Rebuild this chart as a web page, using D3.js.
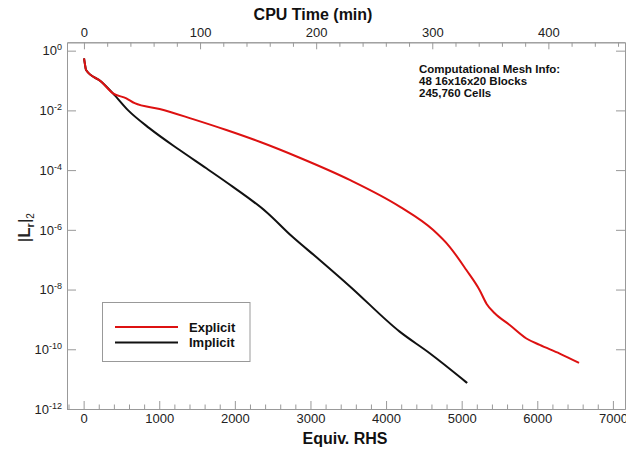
<!DOCTYPE html>
<html lang="en">
<head>
  <meta charset="UTF-8">
  <title>Residual convergence</title>
  <style>
    body { margin: 0; background: #fff; font-family: "Liberation Sans", Arial, sans-serif; }
    .axis path, .axis line { stroke: #999; stroke-width: 1px; }
    .axis text { fill: #222; font-size: 13px; font-family: "Liberation Sans", Arial, sans-serif; }
    .curve { fill: none; stroke-width: 2px; stroke-linejoin: round; }
    .title { font-weight: bold; fill: #111; }
  </style>
</head>
<body>
  <svg width="626" height="450"></svg>

  <script src="https://d3js.org/d3.v7.min.js"></script>
  <script>
    // Equiv. RHS evaluations vs. |Lr|2 residual
    const implicitRhs = [5, 17, 32, 234, 388, 586, 873, 1270, 1623, 1975, 2420, 2751, 3122, 3519, 4180, 4577, 4996, 5073];
    const implicitRes = [0.556, 0.355, 0.224, 0.0912, 0.0372, 0.0102, 2.5e-3, 4.7e-4, 1.15e-4, 2.75e-5, 3.9e-6, 6.2e-7, 9.8e-8, 1.3e-8, 3.9e-10, 7.4e-11, 1.07e-11, 7.4e-12];

    const explicitRhs = [5, 17, 32, 234, 388, 565, 675, 1005, 1446, 1888, 2328, 2857, 3519, 4180, 4620, 4841, 5062, 5238, 5330, 5437, 5635, 5856, 6032, 6296, 6552];
    const explicitRes = [0.556, 0.355, 0.224, 0.0912, 0.0372, 0.0254, 0.0174, 0.0112, 5.1e-3, 2.2e-3, 8.9e-4, 2.6e-4, 4.7e-5, 6.0e-6, 1.0e-6, 2.7e-7, 4.5e-8, 9.5e-9, 3.3e-9, 1.6e-9, 6.5e-10, 2.3e-10, 1.4e-10, 7.2e-11, 3.5e-11];

    const rhsTicks = [0, 1000, 2000, 3000, 4000, 5000, 6000, 7000];
    const cpuTicks = [0, 100, 200, 300, 400];
    const resTicks = [1, 1e-2, 1e-4, 1e-6, 1e-8, 1e-10, 1e-12];

    const meshInfo = ["Computational Mesh Info:", "48 16x16x20 Blocks", "245,760 Cells"];

    const plotL = 67, plotR = 625, plotT = 42.3, plotB = 409;

    const svg = d3.select("svg");

    const x = d3.scaleLinear().domain([-220, 7160]).range([plotL, plotR]);
    const xTop = d3.scaleLinear().domain([-14.6, 466]).range([plotL, plotR]);
    const y = d3.scaleLog().domain([Math.pow(10, 0.28), 1e-12]).range([plotT, plotB]);

    // minor ticks
    const rhsMinor = d3.range(-200, 7160, 200).filter(v => v % 1000 !== 0);
    const cpuMinor = d3.range(-0, 466, 20).filter(v => v % 100 !== 0);

    svg.append("g").attr("class", "axis")
       .attr("transform", `translate(0,${plotB})`)
       .call(d3.axisBottom(x).tickValues(rhsMinor).tickFormat("").tickSizeInner(-4.5).tickSizeOuter(0));
    const bx = svg.append("g").attr("class", "axis")
       .attr("transform", `translate(0,${plotB})`)
       .call(d3.axisBottom(x).tickValues(rhsTicks).tickFormat(d3.format("d")).tickSizeInner(-8).tickSizeOuter(0).tickPadding(5));
    bx.selectAll("text").attr("dy", "0.71em");

    svg.append("g").attr("class", "axis")
       .attr("transform", `translate(0,${plotT})`)
       .call(d3.axisTop(xTop).tickValues(cpuMinor).tickFormat("").tickSizeInner(-4.5).tickSizeOuter(0));
    svg.append("g").attr("class", "axis")
       .attr("transform", `translate(0,${plotT})`)
       .call(d3.axisTop(xTop).tickValues(cpuTicks).tickFormat(d3.format("d")).tickSizeInner(-7).tickSizeOuter(0).tickPadding(5.5));

    const ly = svg.append("g").attr("class", "axis")
       .attr("transform", `translate(${plotL},0)`)
       .call(d3.axisLeft(y).tickValues(resTicks).tickSizeInner(-9).tickSizeOuter(0).tickPadding(5));
    ly.selectAll("text")
      .text(null)
      .attr("dy", "0.32em")
      .each(function(d) {
        const t = d3.select(this);
        t.append("tspan").text("10");
        t.append("tspan").attr("dy", "-0.55em").attr("font-size", "9px").text(Math.round(Math.log10(d)));
      });

    svg.append("g").attr("class", "axis")
       .attr("transform", `translate(${plotR},0)`)
       .call(d3.axisRight(y).tickValues(resTicks).tickFormat("").tickSizeInner(-9).tickSizeOuter(0));

    // axis titles
    svg.append("text").attr("class", "title")
       .attr("x", 313).attr("y", 20).attr("text-anchor", "middle")
       .style("font-size", "16px").text("CPU Time (min)");
    svg.append("text").attr("class", "title")
       .attr("x", 345).attr("y", 444).attr("text-anchor", "middle")
       .style("font-size", "16px").text("Equiv. RHS");

    const yl = svg.append("text")
       .attr("transform", `translate(30,${(plotT + plotB) / 2 + 2}) rotate(-90)`)
       .attr("text-anchor", "middle")
       .style("font-size", "17px").style("fill", "#222");
    yl.append("tspan").text("|");
    yl.append("tspan").attr("font-weight", "bold").text("L");
    yl.append("tspan").attr("dy", "4").attr("font-size", "11px").attr("font-weight", "bold").text("r");
    yl.append("tspan").attr("dy", "-4").text("|");
    yl.append("tspan").attr("dy", "4").attr("font-size", "10px").text("2");

    // curves
    const line = d3.line()
      .x(d => x(d[0]))
      .y(d => y(d[1]))
      .curve(d3.curveMonotoneX);

    svg.append("path").attr("class", "curve")
       .attr("stroke", "#111")
       .attr("d", line(d3.zip(implicitRhs, implicitRes)));
    svg.append("path").attr("class", "curve")
       .attr("stroke", "#dd1111")
       .attr("d", line(d3.zip(explicitRhs, explicitRes)));

    // mesh info
    svg.append("g").selectAll("text")
       .data(meshInfo)
       .join("text")
       .attr("x", 419)
       .attr("y", (d, i) => 73 + i * 12)
       .style("font-size", "11.5px").style("font-weight", "bold").style("fill", "#111")
       .text(d => d);

    // legend
    const legend = svg.append("g");
    legend.append("rect")
       .attr("x", 102.5).attr("y", 302.5).attr("width", 147.5).attr("height", 59)
       .attr("fill", "#fff").attr("stroke", "#999");
    const items = [["Explicit", "#dd1111"], ["Implicit", "#111"]];
    items.forEach(([name, color], i) => {
      const yy = 327 + i * 15.5;
      legend.append("line").attr("x1", 115).attr("x2", 178).attr("y1", yy).attr("y2", yy)
            .attr("stroke", color).attr("stroke-width", 2);
      legend.append("text").attr("x", 189).attr("y", yy + 4.5)
            .style("font-size", "13px").style("font-weight", "bold").style("fill", "#111")
            .text(name);
    });
  </script>
</body>
</html>
